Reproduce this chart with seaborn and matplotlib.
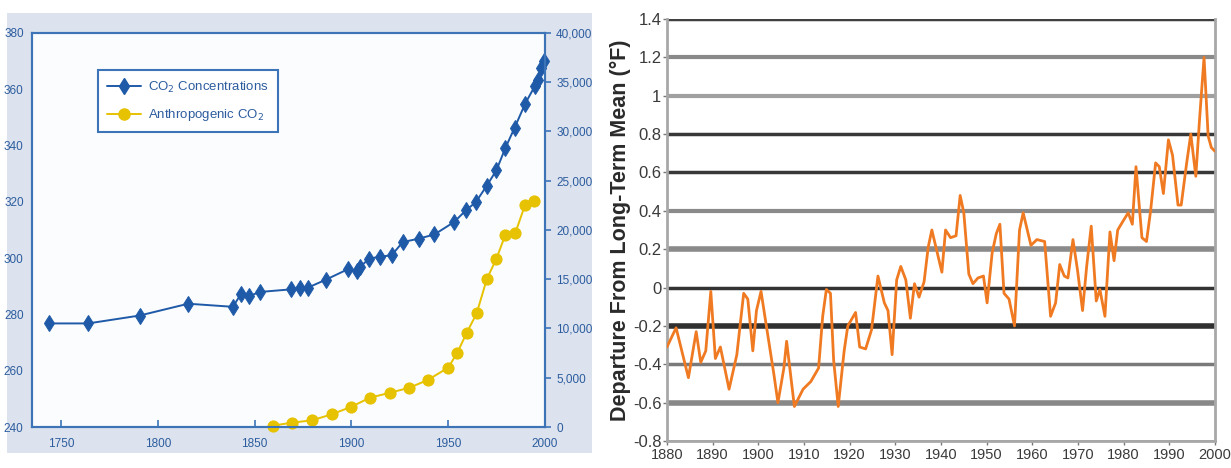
import matplotlib
matplotlib.use("Agg")
import matplotlib.pyplot as plt
import matplotlib.patches as mpatches
from matplotlib.lines import Line2D
from matplotlib.ticker import FuncFormatter
import seaborn as sns
import pandas as pd

sns.set_theme(style="white")
plt.rcParams['font.family'] = ['Liberation Sans', 'DejaVu Sans']

# ---------------- data ----------------
co2_years = [1744, 1764, 1790.6, 1815.7, 1838.8, 1842.9, 1846.9, 1853, 1868.8, 1873.5,
             1877.5, 1887, 1898, 1902.7, 1904.5, 1909, 1914.7, 1920.8, 1926.5, 1934.7,
             1942.9, 1953, 1959.2, 1964.3, 1970, 1974.9, 1979.6, 1984.3, 1989.8, 1994.9,
             1996.3, 1998, 1999.6]
co2_ppm = [276.8, 276.8, 279.6, 283.8, 282.7, 287.2, 286.5, 288.0, 288.9, 289.5,
           289.5, 292.4, 296.0, 295.4, 296.8, 299.8, 300.5, 301.0, 305.7, 306.9,
           308.4, 312.8, 317.0, 319.9, 325.8, 331.2, 339.2, 346.3, 354.9, 361.3,
           363.4, 367.6, 370.0]

anth_years = [1859.6, 1869.4, 1879.6, 1889.8, 1900, 1909.6, 1920, 1930, 1939.4, 1950,
              1954.7, 1959.6, 1964.7, 1970, 1974.9, 1979.6, 1984.7, 1989.8, 1994.3]
anth_co2 = [150, 440, 680, 1280, 2060, 2975, 3480, 3990, 4770, 6020,
            7540, 9570, 11530, 15040, 17070, 19540, 19710, 22580, 22920]

temp_years = [1880, 1882, 1884.7, 1886.4, 1887.4, 1888.5, 1889.6, 1890.6, 1891.7, 1893.6,
              1895.3, 1896.8, 1897.7, 1898.8, 1899.6, 1900.6, 1901.7, 1903.4, 1904.3, 1905.6,
              1906.2, 1907.9, 1909.8, 1911.5, 1913.2, 1914.1, 1914.9, 1915.8, 1916.5, 1917.5,
              1918.8, 1919.6, 1921.3, 1922.2, 1923.5, 1924.8, 1926.2, 1927.6, 1928.4, 1929.3,
              1930.3, 1931.2, 1932.3, 1933.3, 1934.2, 1935.2, 1936.3, 1937.2, 1938, 1939.1,
              1940.2, 1941, 1942.1, 1943.3, 1944.2, 1945, 1946.1, 1947, 1948.1, 1949.3,
              1950.1, 1951.2, 1952.1, 1952.9, 1953.8, 1954.9, 1956.1, 1957.2, 1958, 1959.7,
              1961, 1962.7, 1964, 1965.1, 1966, 1967, 1967.8, 1968.9, 1969.9, 1971,
              1971.9, 1972.9, 1974, 1974.8, 1975.9, 1977, 1977.9, 1978.7, 1979.7, 1981,
              1981.9, 1982.7, 1984, 1985, 1985.9, 1987, 1987.8, 1988.7, 1989.8, 1990.7,
              1991.9, 1992.6, 1993.8, 1994.7, 1995.8, 1996.6, 1997.6, 1998.5, 1999.2, 2000]
temp_dep = [-0.31, -0.21, -0.47, -0.23, -0.39, -0.33, -0.02, -0.37, -0.31, -0.53,
            -0.35, -0.03, -0.06, -0.33, -0.12, -0.02, -0.19, -0.45, -0.60, -0.42,
            -0.28, -0.62, -0.53, -0.49, -0.42, -0.15, -0.01, -0.03, -0.38, -0.62,
            -0.33, -0.20, -0.13, -0.31, -0.32, -0.22, 0.06, -0.08, -0.12, -0.35,
            0.04, 0.11, 0.04, -0.16, 0.02, -0.05, 0.03, 0.21, 0.30, 0.19,
            0.08, 0.30, 0.26, 0.27, 0.48, 0.39, 0.07, 0.02, 0.05, 0.06,
            -0.08, 0.18, 0.28, 0.33, -0.03, -0.06, -0.20, 0.30, 0.39, 0.22,
            0.25, 0.24, -0.15, -0.08, 0.12, 0.06, 0.05, 0.25, 0.09, -0.12,
            0.11, 0.32, -0.07, -0.01, -0.15, 0.29, 0.14, 0.30, 0.34, 0.39,
            0.33, 0.63, 0.26, 0.24, 0.40, 0.65, 0.63, 0.49, 0.77, 0.69,
            0.43, 0.43, 0.65, 0.80, 0.58, 0.87, 1.20, 0.79, 0.73, 0.71]

left_xticks = [1750, 1800, 1850, 1900, 1950, 2000]
left_yticks = [240, 260, 280, 300, 320, 340, 360, 380]
right2_yticks = [0, 5000, 10000, 15000, 20000, 25000, 30000, 35000, 40000]
temp_xticks = [1880, 1890, 1900, 1910, 1920, 1930, 1940, 1950, 1960, 1970, 1980, 1990, 2000]
temp_yticks = [-0.8, -0.6, -0.4, -0.2, 0, 0.2, 0.4, 0.6, 0.8, 1.0, 1.2, 1.4]

legend_labels = [r"CO$_2$ Concentrations", r"Anthropogenic CO$_2$"]
temp_ylabel = "Departure From Long-Term Mean (°F)"

# ---------------- styles ----------------
BLUE = "#1f5aa8"
TXT_BLUE = "#2c5c9e"
YELLOW = "#e6c200"
ORANGE = "#f07a22"

fig = plt.figure(figsize=(12.31, 4.68), dpi=100)
fig.patch.set_facecolor("white")

# panel background for left chart
fig.patches.append(mpatches.Rectangle((0.0057, 0.032), 0.475, 0.940,
                                      transform=fig.transFigure, facecolor="#dce3ee",
                                      edgecolor="none", zorder=-10))

# ---------------- left chart ----------------
ax1 = fig.add_axes([0.026, 0.0876, 0.4167, 0.842])
ax1.set_facecolor("#fbfcfd")
df_co2 = pd.DataFrame({"year": co2_years, "ppm": co2_ppm})
sns.lineplot(data=df_co2, x="year", y="ppm", ax=ax1, color=BLUE, marker="d",
             markersize=8, markeredgecolor=BLUE, linewidth=1.4, clip_on=False)
ax1.set_xlim(1735, 2000)
ax1.set_ylim(240, 380)
ax1.set_xticks(left_xticks)
ax1.set_yticks(left_yticks)
ax1.set_xlabel("")
ax1.set_ylabel("")

ax2 = ax1.twinx()
df_an = pd.DataFrame({"year": anth_years, "val": anth_co2})
sns.lineplot(data=df_an, x="year", y="val", ax=ax2, color=YELLOW, marker="o",
             markersize=8, markeredgecolor=YELLOW, linewidth=1.4, clip_on=False)
ax2.set_ylim(0, 40000)
ax2.set_yticks(right2_yticks)
ax2.yaxis.set_major_formatter(FuncFormatter(lambda v, p: f"{int(v):,}"))
ax2.set_ylabel("")
ax2.set_xlabel("")

for ax in (ax1, ax2):
    for s in ax.spines.values():
        s.set_color("#3d74b8")
        s.set_linewidth(1.5)
ax1.tick_params(axis="x", direction="in", length=5, width=1.2, color="#3d74b8",
                labelcolor=TXT_BLUE, labelsize=8.5, pad=8, bottom=True)
ax1.tick_params(axis="y", length=0, labelcolor=TXT_BLUE, labelsize=8.5, pad=6, left=True)
ax2.tick_params(axis="y", direction="out", length=4, width=1.2, color="#3d74b8",
                labelcolor=TXT_BLUE, labelsize=8.5, pad=4, right=True)

handles = [Line2D([], [], color=BLUE, marker="d", markersize=8, linewidth=1.4),
           Line2D([], [], color=YELLOW, marker="o", markersize=8, linewidth=1.4)]
leg = ax2.legend(handles, legend_labels, loc="upper left", bbox_to_anchor=(0.128, 0.905),
                 frameon=True, fancybox=False, fontsize=9.5, handlelength=2.6,
                 borderpad=0.7, labelspacing=0.95, handletextpad=0.5, framealpha=1,
                 borderaxespad=0)
leg.get_frame().set_edgecolor("#3d74b8")
leg.get_frame().set_linewidth(1.5)
for t in leg.get_texts():
    t.set_color(TXT_BLUE)
leg.set_zorder(10)

# ---------------- right chart ----------------
ax3 = fig.add_axes([0.5418, 0.0577, 0.4452, 0.9017])
ax3.set_facecolor("white")
df_t = pd.DataFrame({"year": temp_years, "dep": temp_dep})
ax3.set_xlim(1880, 2000)
ax3.set_ylim(-0.8, 1.4)
ax3.set_yticks(temp_yticks)
ax3.set_xticks(temp_xticks)
ax3.yaxis.set_major_formatter(FuncFormatter(lambda v, p: f"{round(v, 1):g}"))

grid_styles = {  # tick value -> (colour, width)
    -0.8: ("#9a9a9a", 2.0), -0.6: ("#888888", 4.0), -0.4: ("#7a7a7a", 2.5),
    -0.2: ("#303030", 4.0), 0.0: ("#333333", 2.5), 0.2: ("#8a8a8a", 4.0),
    0.4: ("#8a8a8a", 3.0), 0.6: ("#383838", 2.5), 0.8: ("#383838", 2.5),
    1.0: ("#a0a0a0", 3.0), 1.2: ("#8a8a8a", 3.0), 1.4: ("#404040", 2.5),
}
for v in temp_yticks:
    c, w = grid_styles[round(v, 1)]
    ax3.axhline(v, color=c, linewidth=w, zorder=1)

sns.lineplot(data=df_t, x="year", y="dep", ax=ax3, color=ORANGE, linewidth=2.0,
             zorder=3)
ax3.set_xlabel("")
ax3.set_ylabel(temp_ylabel, fontsize=15.5, fontweight="bold", color="#2a2a2a", labelpad=1)

for s in ax3.spines.values():
    s.set_color("#a8a8a8")
    s.set_linewidth(2)
ax3.spines["top"].set_visible(False)
ax3.tick_params(axis="both", direction="out", length=3, width=1, color="#777777",
                labelcolor="#3a3a3a", labelsize=12, bottom=True, left=True)
ax3.tick_params(axis="x", labelsize=10.5, pad=2)
ax3.tick_params(axis="y", pad=1)

fig.savefig("out.png", dpi=100, facecolor=fig.get_facecolor())
